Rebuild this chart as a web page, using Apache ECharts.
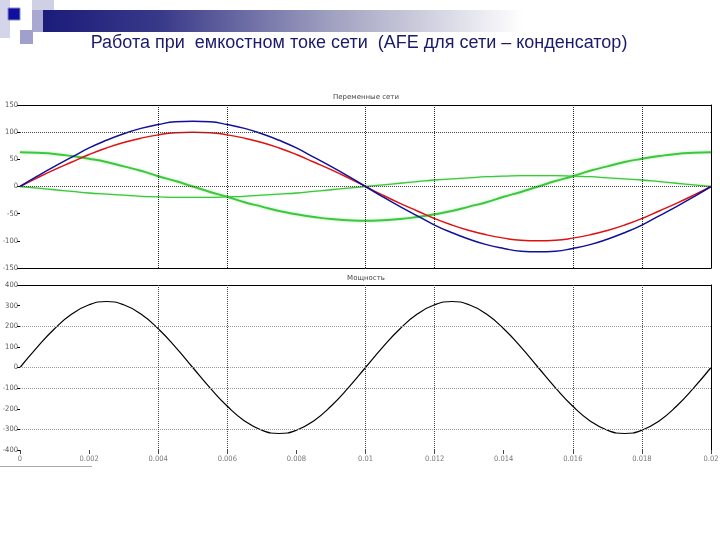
<!DOCTYPE html>
<html><head><meta charset="utf-8">
<script src="https://cdn.jsdelivr.net/npm/echarts@6/dist/echarts.min.js"></script>
<style>html,body{margin:0;padding:0;background:#fff}#c{width:720px;height:540px}</style>
</head><body><div id="c"></div>
<script>
// time axis (s)
const t = [0,0.0005,0.001,0.0015,0.002,0.0025,0.003,0.0035,0.004,0.0045,0.005,0.0055,0.006,0.0065,0.007,0.0075,0.008,0.0085,0.009,0.0095,0.01,0.0105,0.011,0.0115,0.012,0.0125,0.013,0.0135,0.014,0.0145,0.015,0.0155,0.016,0.0165,0.017,0.0175,0.018,0.0185,0.019,0.0195,0.02];
// top panel: network variables
const blueU = [0,19,37,54,71,85,97,107,114,119,120,119,114,107,97,85,71,54,37,19,0,-19,-37,-54,-71,-85,-97,-107,-114,-119,-120,-119,-114,-107,-97,-85,-71,-54,-37,-19,0];
const redU = [0,16,31,45,59,71,81,89,95,99,100,99,95,89,81,71,59,45,31,16,0,-16,-31,-45,-59,-71,-81,-89,-95,-99,-100,-99,-95,-89,-81,-71,-59,-45,-31,-16,0];
const greenA = [63,62,60,56,51,45,37,29,19,10,0,-10,-19,-29,-37,-45,-51,-56,-60,-62,-63,-62,-60,-56,-51,-45,-37,-29,-19,-10,0,10,19,29,37,45,51,56,60,62,63];
const greenB = [0,-3,-6,-9,-12,-14,-16,-18,-19,-20,-20,-20,-19,-18,-16,-14,-12,-9,-6,-3,0,3,6,9,12,14,16,18,19,20,20,20,19,18,16,14,12,9,6,3,0];
// bottom panel: power
const power = [0,99,188,259,304,320,304,259,188,99,0,-99,-188,-259,-304,-320,-304,-259,-188,-99,0,99,188,259,304,320,304,259,188,99,0,-99,-188,-259,-304,-320,-304,-259,-188,-99,0];

const titleText = 'Работа при  емкостном токе сети  (AFE для сети – конденсатор)';
const topTitle = 'Переменные сети';
const bottomTitle = 'Мощность';
const topHGrid = [100, 0];
const bottomHGrid = [200, 0, -100, -300];
const vGrid = [0.004, 0.006, 0.01, 0.012, 0.016, 0.018];

const pairs = arr => t.map((x, i) => [x, arr[i]]);
const dotted = (c) => ({type: 'dotted', color: c, width: 1});
function gridLines(h, hc, vc, ymin, ymax) {
  const hl = h.map(v => [{coord: [0, v], lineStyle: dotted(hc)}, {coord: [0.02, v]}]);
  const vl = vGrid.map(v => [{coord: [v, ymin], lineStyle: dotted(vc)}, {coord: [v, ymax]}]);
  return {silent: true, symbol: 'none', animation: false, label: {show: false}, data: hl.concat(vl)};
}
const lbl = {fontSize: 7.5, color: '#555', fontFamily: 'DejaVu Sans Condensed, DejaVu Sans'};
const chart = echarts.init(document.getElementById('c'), null, {renderer: 'canvas'});
chart.setOption({
  animation: false,
  backgroundColor: '#fff',
  grid: [
    {left: 20, right: 9, top: 105, height: 163, containLabel: false, outerBoundsMode: 'none'},
    {left: 20, right: 9, top: 285, height: 165, containLabel: false, outerBoundsMode: 'none'}
  ],
  xAxis: [
    {gridIndex: 0, type: 'value', min: 0, max: 0.02, interval: 0.002, position: 'bottom',
      axisLine: {show: true, onZero: false, lineStyle: {color: '#000', width: 1}}, axisTick: {show: false}, axisLabel: {show: false}, splitLine: {show: false}},
    {gridIndex: 1, type: 'value', min: 0, max: 0.02, interval: 0.002, position: 'bottom',
      axisLine: {show: false, onZero: false}, axisTick: {show: true, length: 4, lineStyle: {color: '#444'}}, axisLabel: Object.assign({margin: 5, color: '#777'}, lbl, {color: '#777'}), splitLine: {show: false}},
    {gridIndex: 0, type: 'value', min: 0, max: 0.02, position: 'top',
      axisLine: {show: true, onZero: false, lineStyle: {color: '#000', width: 1}}, axisTick: {show: false}, axisLabel: {show: false}, splitLine: {show: false}},
    {gridIndex: 1, type: 'value', min: 0, max: 0.02, position: 'top',
      axisLine: {show: true, onZero: false, lineStyle: {color: '#000', width: 1}}, axisTick: {show: false}, axisLabel: {show: false}, splitLine: {show: false}}
  ],
  yAxis: [
    {gridIndex: 0, type: 'value', min: -150, max: 150, interval: 50, position: 'left',
      axisLine: {show: false}, axisTick: {show: true, length: 3, lineStyle: {color: '#000'}}, axisLabel: Object.assign({margin: 2}, lbl), splitLine: {show: false}},
    {gridIndex: 1, type: 'value', min: -400, max: 400, interval: 100, position: 'left',
      axisLine: {show: false}, axisTick: {show: true, length: 3, lineStyle: {color: '#000'}}, axisLabel: Object.assign({margin: 2}, lbl), splitLine: {show: false}},
    {gridIndex: 0, type: 'value', min: -150, max: 150, position: 'right',
      axisLine: {show: true, onZero: false, lineStyle: {color: '#000', width: 1}}, axisTick: {show: false}, axisLabel: {show: false}, splitLine: {show: false}},
    {gridIndex: 1, type: 'value', min: -400, max: 400, position: 'right',
      axisLine: {show: true, onZero: false, lineStyle: {color: '#000', width: 1}}, axisTick: {show: false}, axisLabel: {show: false}, splitLine: {show: false}}
  ],
  series: [
    {type: 'line', xAxisIndex: 0, yAxisIndex: 0, data: pairs(greenA), showSymbol: false, smooth: true,
      lineStyle: {color: '#3cc83c', width: 2, shadowColor: 'rgba(60,200,60,0.35)', shadowBlur: 3}, markLine: gridLines(topHGrid, '#444', '#222', -150, 150), z: 2},
    {type: 'line', xAxisIndex: 0, yAxisIndex: 0, data: pairs(greenB), showSymbol: false, smooth: true,
      lineStyle: {color: '#3cc83c', width: 1.3, shadowColor: 'rgba(60,200,60,0.3)', shadowBlur: 2}, z: 2},
    {type: 'line', xAxisIndex: 0, yAxisIndex: 0, data: pairs(redU), showSymbol: false, smooth: true,
      lineStyle: {color: '#e01010', width: 1.5}, z: 3},
    {type: 'line', xAxisIndex: 0, yAxisIndex: 0, data: pairs(blueU), showSymbol: false, smooth: true,
      lineStyle: {color: '#10109a', width: 1.5}, z: 4},
    {type: 'line', xAxisIndex: 1, yAxisIndex: 1, data: pairs(power), showSymbol: false, smooth: true,
      lineStyle: {color: '#000', width: 1.2}, markLine: gridLines(bottomHGrid, '#999', '#444', -400, 400), z: 3}
  ],
  graphic: [
    {type: 'rect', shape: {x: 0, y: 0, width: 10, height: 38}, style: {fill: '#d4d4ea'}, silent: true},
    {type: 'rect', shape: {x: 32, y: 0, width: 22, height: 10}, style: {fill: '#cfcfe6'}, silent: true},
    {type: 'rect', shape: {x: 32, y: 10, width: 12, height: 22}, style: {fill: '#a8a8d0'}, silent: true},
    {type: 'rect', shape: {x: 20, y: 30, width: 13, height: 14}, style: {fill: '#a0a0cc'}, silent: true},
    {type: 'rect', shape: {x: 8, y: 8, width: 12, height: 12}, style: {fill: '#1010a0', stroke: '#8888cc', lineWidth: 1}, silent: true},
    {type: 'rect', shape: {x: 43, y: 10, width: 480, height: 22}, silent: true,
      style: {fill: new echarts.graphic.LinearGradient(0, 0, 1, 0, [
        {offset: 0, color: '#1b1b7a'}, {offset: 0.25, color: '#3a3a8a'}, {offset: 0.6, color: '#a0a0c0'}, {offset: 1, color: '#ffffff'}])}},
    {type: 'text', x: 359, y: 43, silent: true,
      style: {text: titleText, fill: '#1a1a6a', font: '18px "Liberation Sans", sans-serif', textAlign: 'center', textVerticalAlign: 'middle'}},
    {type: 'text', x: 366, y: 97, silent: true,
      style: {text: topTitle, fill: '#444', font: '7px "DejaVu Sans", sans-serif', textAlign: 'center', textVerticalAlign: 'middle'}},
    {type: 'text', x: 366, y: 278, silent: true,
      style: {text: bottomTitle, fill: '#444', font: '7px "DejaVu Sans", sans-serif', textAlign: 'center', textVerticalAlign: 'middle'}},
    {type: 'rect', shape: {x: 0, y: 466, width: 92, height: 1}, style: {fill: '#aaa'}, silent: true}
  ]
});
</script></body></html>
